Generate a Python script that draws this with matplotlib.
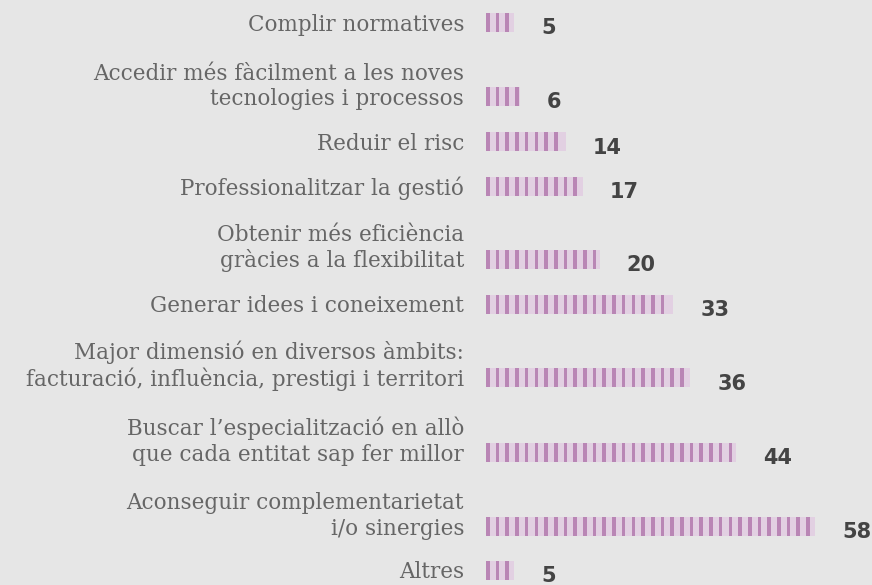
import numpy as np
import matplotlib
matplotlib.use("Agg")
import matplotlib.pyplot as plt

# Data
labels = [
    "Complir normatives",
    "Accedir més fàcilment a les noves\ntecnologies i processos",
    "Reduir el risc",
    "Professionalitzar la gestió",
    "Obtenir més eficiència\ngràcies a la flexibilitat",
    "Generar idees i coneixement",
    "Major dimensió en diversos àmbits:\nfacturació, influència, prestigi i territori",
    "Buscar l’especialització en allò\nque cada entitat sap fer millor",
    "Aconseguir complementarietat\ni/o sinergies",
    "Altres",
]
values = [5, 6, 14, 17, 20, 33, 36, 44, 58, 5]

# Layout: row centres in pixels from the top
row_y = [22.5, 96.5, 141.5, 186, 259, 304, 377.5, 452, 526, 570]

W, H = 872, 585
px_per_unit = 5.68
x0_px = 486

bg = "#e6e6e6"
light = "#e2d0e2"
dark = "#b986b5"
text_col = "#666666"
value_col = "#444444"

fig = plt.figure(figsize=(W / 100, H / 100), dpi=100)
fig.patch.set_facecolor(bg)
ax = fig.add_axes([0, 0, 1, 1])
ax.set_facecolor(bg)
ax.set_xlim(-x0_px / px_per_unit, (W - x0_px) / px_per_unit)
ax.set_ylim(H, 0)
ax.axis("off")

bar_h = 19
stripe_w = 3.6 / px_per_unit
period = 9.7 / px_per_unit

for lab, v, y in zip(labels, values, row_y):
    ax.barh(y, v, height=bar_h, color=light, linewidth=0)
    starts = np.arange(0, v - stripe_w + 1e-9, period)
    ax.barh([y] * len(starts), stripe_w, left=starts, height=bar_h,
            color=dark, linewidth=0)
    ax.text(-22 / px_per_unit, y + 8.5, lab, ha="right", va="baseline",
            fontsize=15.5, family="DejaVu Serif", color=text_col,
            linespacing=1.2)
    ax.text(v + 27 / px_per_unit, y + 12, str(v), ha="left", va="baseline",
            fontsize=15, fontweight="bold", family="DejaVu Sans",
            color=value_col)

fig.savefig("out.png", dpi=100, facecolor=bg)
